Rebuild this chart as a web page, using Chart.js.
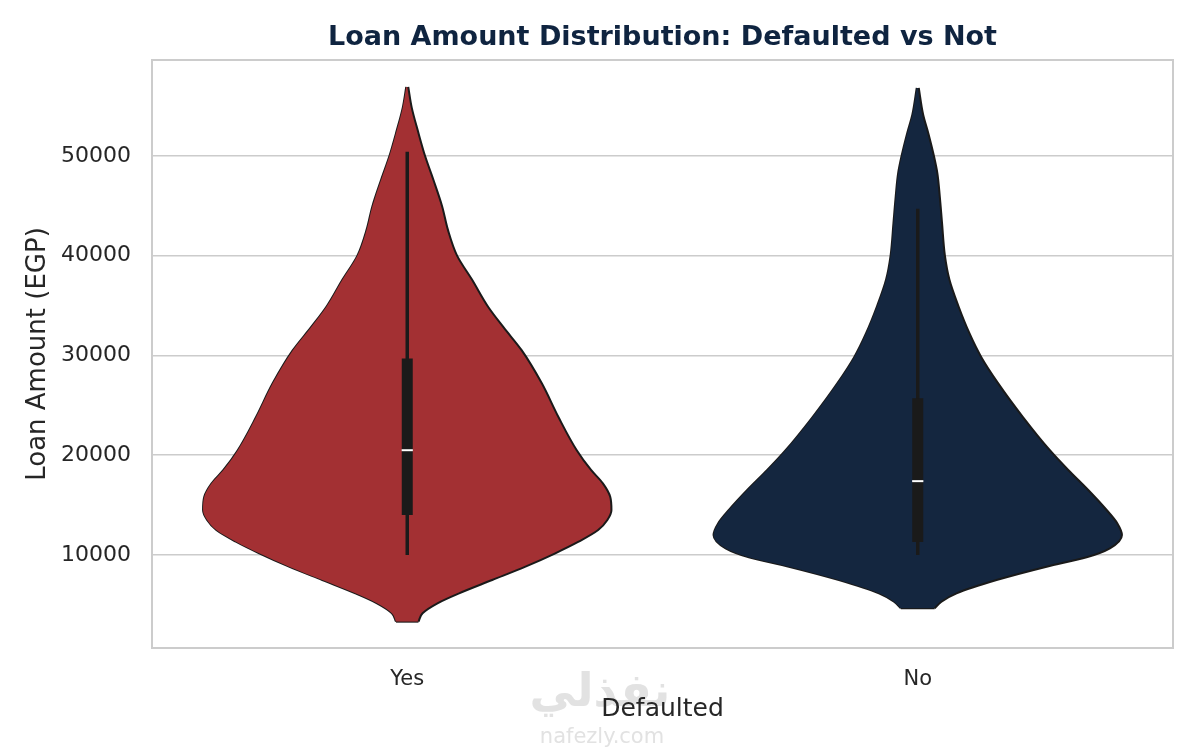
<!DOCTYPE html>
<html>
<head>
<meta charset="utf-8">
<script src="https://cdn.jsdelivr.net/npm/chart.js@4.4.1/dist/chart.umd.min.js"></script>
<style>
  html, body { margin: 0; padding: 0; background: #fff; }
  #wrap { width: 1200px; height: 750px; position: relative; }
</style>
</head>
<body>
<div id="wrap"><canvas id="chart"></canvas></div>
<script>
// ── Data ──
const categories = ['Yes', 'No'];

// violin outline: loan amount level -> relative density (1 = widest point)
const yesLevels  = [3320, 4160, 5160, 6160, 7490, 8830, 10170, 11330, 12500, 13510, 14510, 15840, 17180, 18520, 20500,
                    23800, 27200, 30500, 32800, 34900, 37600, 40000, 42600, 44930, 47600, 50000, 52500, 54830, 56900];
const yesDensity = [0.055, 0.075, 0.148, 0.254, 0.416, 0.579, 0.725, 0.839, 0.935, 0.980, 1.000, 0.994, 0.958, 0.900, 0.830,
                    0.741, 0.659, 0.561, 0.472, 0.395, 0.317, 0.244, 0.199, 0.171, 0.128, 0.087, 0.052, 0.022, 0.005];

const noLevels   = [4660, 5320, 6160, 7490, 8830, 9770, 10670, 12000, 13180, 14510, 16510, 18520, 20500, 23800,
                    27200, 29800, 32230, 34900, 37600, 40000, 43250, 45920, 48260, 50000, 52170, 54170, 56800];
const noDensity  = [0.083, 0.116, 0.190, 0.386, 0.631, 0.827, 0.941, 1.000, 0.977, 0.925, 0.835, 0.737, 0.647, 0.516,
                    0.394, 0.312, 0.253, 0.200, 0.155, 0.133, 0.119, 0.108, 0.096, 0.079, 0.053, 0.026, 0.005];

// inner box summary per category
const whiskerLow  = [10000, 10000];
const quartile1   = [14000, 11300];
const medians     = [20500, 17400];
const quartile3   = [29700, 25700];
const whiskerHigh = [50400, 44700];

const yTicks = [10000, 20000, 30000, 40000, 50000];

// ── Style ──
const FILLS      = ['#a33033', '#14263f'];
const OUTLINE    = '#1a1a1a';
const TEXT       = '#262626';
const GRID       = '#cccccc';
const HALF_WIDTH = 0.4;    // max half width of a violin, in category units
const MED_HALF   = 0.011;  // half length of median tick

Chart.defaults.font.family = "'DejaVu Sans', sans-serif";

// ── Helpers ──
// one side of a violin, traced bottom to top; smoothed along the value axis
function violinSide(i, levels, density, sign, fill) {
  return {
    label: categories[i],
    data: levels.map((y, k) => ({ x: i + sign * density[k] * HALF_WIDTH, y })),
    indexAxis: 'y',
    cubicInterpolationMode: 'monotone',
    showLine: true,
    fill,
    backgroundColor: FILLS[i],
    borderColor: OUTLINE,
    borderWidth: 2,
    pointRadius: 0,
    order: 3,
  };
}

function segment(points, color, width, order) {
  return {
    data: points,
    showLine: true,
    fill: false,
    borderColor: color,
    borderWidth: width,
    borderCapStyle: 'butt',
    pointRadius: 0,
    order,
  };
}

const violins = [[yesLevels, yesDensity], [noLevels, noDensity]];
const datasets = [];
violins.forEach(([levels, density], i) => {
  datasets.push(violinSide(i, levels, density, 1, '+1'));
  datasets.push(violinSide(i, levels, density, -1, false));
});
violins.forEach(([levels, density], i) => {
  const w = density[0] * HALF_WIDTH;
  datasets.push(segment([{ x: i - w, y: levels[0] }, { x: i + w, y: levels[0] }], OUTLINE, 2, 3));
  datasets.push(segment([{ x: i, y: whiskerLow[i] }, { x: i, y: whiskerHigh[i] }], OUTLINE, 3.5, 2));
  datasets.push(segment([{ x: i, y: quartile1[i] }, { x: i, y: quartile3[i] }], OUTLINE, 11, 1));
  datasets.push(segment([{ x: i - MED_HALF, y: medians[i] }, { x: i + MED_HALF, y: medians[i] }], '#ffffff', 2, 0));
});

// ── Plugins ──
const frame = {
  id: 'frame',
  afterDatasetsDraw(chart) {
    const { ctx, chartArea: a } = chart;
    ctx.save();
    ctx.strokeStyle = GRID;
    ctx.lineWidth = 2;
    ctx.strokeRect(a.left, a.top, a.right - a.left, a.bottom - a.top);
    ctx.restore();
  },
};

const watermark = {
  id: 'watermark',
  beforeDraw(chart) {
    const { ctx } = chart;
    ctx.save();
    ctx.textAlign = 'center';
    ctx.textBaseline = 'middle';
    ctx.fillStyle = '#e2e2e2';
    ctx.font = "bold 46px 'DejaVu Sans'";
    ctx.fillText('نفذلي', 600, 694);
    ctx.font = "21px 'DejaVu Sans'";
    ctx.fillText('nafezly.com', 602, 738);
    ctx.restore();
  },
};

// ── Chart ──
new Chart(document.getElementById('chart'), {
  type: 'scatter',
  data: { datasets },
  plugins: [watermark, frame],
  options: {
    responsive: true,
    maintainAspectRatio: false,
    animation: false,
    layout: { padding: { top: 0, right: 27, bottom: 0, left: 0 } },
    plugins: {
      legend: { display: false },
      tooltip: { enabled: false },
      title: {
        display: true,
        text: 'Loan Amount Distribution: Defaulted vs Not',
        color: '#0f2440',
        font: { size: 27, weight: 'bold' },
        padding: { top: 22, bottom: 5.6 },
        fullSize: false,
      },
    },
    scales: {
      x: {
        type: 'linear',
        min: -0.5,
        max: 1.5,
        afterBuildTicks: s => { s.ticks = categories.map((_, i) => ({ value: i })); },
        afterFit: s => { s.height = 102; },
        ticks: { callback: v => categories[v], color: TEXT, font: { size: 21 }, padding: 19 },
        grid: { display: false, drawTicks: false },
        border: { display: false },
        title: { display: true, text: 'Defaulted', color: TEXT, font: { size: 25 }, padding: { top: 0, bottom: 26 } },
      },
      y: {
        type: 'linear',
        min: 681,
        max: 59600,
        afterBuildTicks: s => { s.ticks = yTicks.map(v => ({ value: v })); },
        afterFit: s => { s.width = 152; },
        ticks: { callback: v => String(v), color: TEXT, font: { size: 22 }, padding: 21 },
        grid: { color: GRID, lineWidth: 1.6, drawTicks: false },
        border: { display: false },
        title: { display: true, text: 'Loan Amount (EGP)', color: TEXT, font: { size: 26 }, padding: { top: 22.4, bottom: 0 } },
      },
    },
  },
});
</script>
</body>
</html>
